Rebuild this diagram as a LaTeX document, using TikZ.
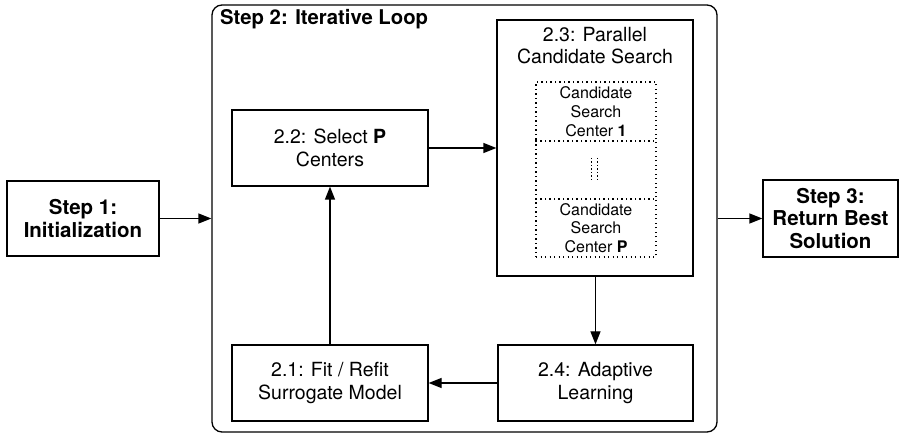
\documentclass[tikz,border=0pt]{standalone}
\usepackage{fontspec}
\setmainfont{TeX Gyre Heros}
\usetikzlibrary{arrows.meta}
\begin{document}
\begin{tikzpicture}[x=1pt,y=-1pt,
  box/.style={draw, line width=1.3pt, inner sep=0pt, align=center,
    font=\fontsize{19.5}{22.5}\selectfont},
  stepbox/.style={box, font=\fontsize{20.5}{22.5}\selectfont\bfseries},
  dotbox/.style={draw, line width=1.2pt, dash pattern=on 1.3pt off 3.2pt,
    inner sep=0pt, align=center, minimum width=120pt,
    font=\fontsize{16}{18.7}\selectfont},
  vdots/.style={line width=1.2pt, dash pattern=on 1.3pt off 2.2pt},
  conn/.style={line width=1.3pt, -{Triangle[length=13pt,width=10pt]}}]
\useasboundingbox (0,0) rectangle (914,435);
% outer loop
\node[draw, line width=1.3pt, rounded corners=10pt, minimum width=505pt,
  minimum height=427pt, inner sep=0pt] (loop) at (464.5,218.5) {};
\node[anchor=base west, font=\fontsize{20.3}{22}\selectfont\bfseries, inner sep=0pt]
  (title) at (220,25) {Step 2: Iterative Loop};
% steps
\node[stepbox, minimum width=152pt, minimum height=75pt,
  font=\fontsize{20.5}{24}\selectfont\bfseries] (s1) at (83,218.5)
  {Step 1:\\Initialization};
\node[stepbox, minimum width=135pt, minimum height=77pt] (s3) at (830.5,218.5)
  {Step 3:\\Return Best\\Solution};
% inner boxes
\node[box, minimum width=196pt, minimum height=76pt] (s22) at (330,148)
  {2.2: Select \textbf{P}\\Centers};
\node[box, minimum width=196pt, minimum height=76pt] (s21) at (330,383)
  {2.1: Fit / Refit\\Surrogate Model};
\node[box, minimum width=195pt, minimum height=76pt] (s24) at (595.5,383)
  {2.4: Adaptive\\Learning};
\node[draw, line width=1.3pt, inner sep=0pt, minimum width=196pt,
  minimum height=256pt] (s23) at (595,148) {};
\node[align=center, inner sep=0pt, font=\fontsize{19.5}{21.7}\selectfont,
  anchor=base] (s23t) at (595,63.3) {2.3: Parallel\\Candidate Search};
% dotted candidate boxes
\node[dotbox, minimum height=59pt] (d1) at (596,111.5)
  {Candidate\\Search\\Center \textbf{1}};
\node[dotbox, minimum height=58pt] (d2) at (596,170) {};
\node[dotbox, minimum height=58pt] (d3) at (596,228)
  {Candidate\\Search\\Center \textbf{P}};
\coordinate (v1a) at (591.7,158);
\coordinate (v1b) at (591.7,181);
\coordinate (v2a) at (597.3,158);
\coordinate (v2b) at (597.3,181);
\draw[vdots] (v1a) -- (v1b);
\draw[vdots] (v2a) -- (v2b);
% connectors
\draw[conn] (s1.east) -- (s1.east -| loop.west);
\draw[conn] (s22.east) -- (s22.east -| s23.west);
\draw[conn] (s23.south -| s24.north) -- (s24.north);
\draw[conn] (s24.west) -- (s24.west -| s21.east);
\draw[conn] (s21.north) -- (s22.south);
\draw[conn] (loop.east |- s3.west) -- (s3.west);
\end{tikzpicture}
\end{document}
